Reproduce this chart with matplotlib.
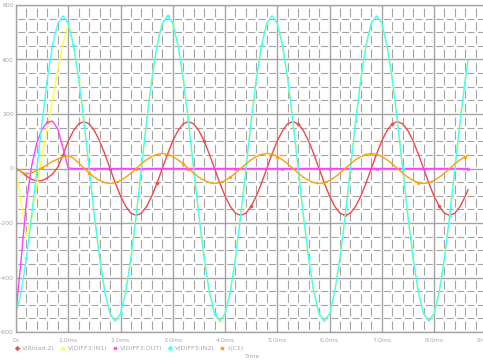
import matplotlib
matplotlib.use("Agg")
import matplotlib.pyplot as plt
import numpy as np

plt.rcParams["lines.scale_dashes"] = False

# sample times in ms (read every 0.1 ms, last point where the traces stop)
t_ms = np.append(np.arange(87) * 0.1, 8.65)

v_rload = [0, -12, -28, -40, -46, -44, -35, -20, 5, 50,
           101, 139, 164, 172, 164, 139, 101, 53, 0, -53, -101, -139, -164, -172, -164, -139, -101, -53, 0, 53,
           101, 139, 164, 172, 164, 139, 101, 53, 0, -53, -101, -139, -164, -172, -164, -139, -101, -53, 0, 53,
           101, 139, 164, 172, 164, 139, 101, 53, 0, -53, -101, -139, -164, -172, -164, -139, -101, -53, 0, 53,
           101, 139, 164, 172, 164, 139, 101, 53, 0, -53, -101, -139, -164, -172, -164, -139, -101,
           -78]

v_in1 = [0, -130, -250, -170, -60, 45, 150, 255, 360, 460, 530,
         453, 329, 173, 0, -173, -329, -453, -533, -560,
         -533, -453, -329, -173, 0, 173, 329, 453, 533, 560, 533, 453, 329, 173, 0, -173, -329, -453, -533, -560,
         -533, -453, -329, -173, 0, 173, 329, 453, 533, 560, 533, 453, 329, 173, 0, -173, -329, -453, -533, -560,
         -533, -453, -329, -173, 0, 173, 329, 453, 533, 560, 533, 453, 329, 173, 0, -173, -329, -453, -533, -560,
         -533, -453, -329, -173, 0, 173, 329,
         396]

v_out = [-525, -330, -120, 10, 95, 145, 170, 174, 145, 75, 2] + [0] * 77

v_in2 = [-533, -453, -329, -173, 0, 173, 329, 453, 533, 560, 533, 453, 329, 173, 0, -173, -329, -453, -533, -560,
         -533, -453, -329, -173, 0, 173, 329, 453, 533, 560, 533, 453, 329, 173, 0, -173, -329, -453, -533, -560,
         -533, -453, -329, -173, 0, 173, 329, 453, 533, 560, 533, 453, 329, 173, 0, -173, -329, -453, -533, -560,
         -533, -453, -329, -173, 0, 173, 329, 453, 533, 560, 533, 453, 329, 173, 0, -173, -329, -453, -533, -560,
         -533, -453, -329, -173, 0, 173, 329,
         396]

i_c1 = [0, -12, -20, -16, -7, 3, 14, 26, 35, 43, 47, 38, 20, 2,
        -17, -32, -44, -52, -55, -52, -44, -32, -17, 0, 17, 32, 44, 52, 55, 52, 44, 32, 17, 0,
        -17, -32, -44, -52, -55, -52, -44, -32, -17, 0, 17, 32, 44, 52, 55, 52, 44, 32, 17, 0,
        -17, -32, -44, -52, -55, -52, -44, -32, -17, 0, 17, 32, 44, 52, 55, 52, 44, 32, 17, 0,
        -17, -32, -44, -52, -55, -52, -44, -32, -17, 0, 17, 32, 44,
        49]

x_ticks = [0, 1, 2, 3, 4, 5, 6, 7, 8, 9]
x_labels = ["0s", "1.0ms", "2.0ms", "3.0ms", "4.0ms", "5.0ms", "6.0ms", "7.0ms", "8.0ms", "9.0ms"]
y_ticks = [-600, -400, -200, 0, 200, 400, 600]
y_labels = ["-600", "-400", "-200", "0", "200", "400", "600"]

txt_col = "#a8a8a8"
grid_col = "#a4a4a4"
fs = 4.5

fig = plt.figure(figsize=(4.83, 3.60), dpi=100)
ax = fig.add_axes([16 / 483, 28 / 360, 470.25 / 483, 327 / 360])

series = [
    (v_rload, "#f04848", "D", "V(Rload:2)", 0),
    (v_in1, "#ffff40", "^", "V(DIFF3:IN1)", 3),
    (v_out, "#ff40ff", "o", "V(DIFF3:OUT)", 6),
    (v_in2, "#40ffff", "D", "V(DIFF3:IN2)", 2),
    (i_c1, "#ffa000", "X", "-I(C1)", 5),
]
for vals, col, mk, lab, off in series:
    mfc = "none" if mk == "o" else col
    ax.plot(t_ms, vals, color=col, lw=1.0, marker=mk, ms=1.6, mfc=mfc, mec=col, mew=0.6,
            markevery=(off, 9), label=lab)

ax.set_xlim(0, 9)
ax.set_ylim(-600, 600)
ax.set_xticks(x_ticks)
ax.set_xticklabels(x_labels)
ax.set_yticks(y_ticks)
ax.set_yticklabels(y_labels)
ax.set_xticks(np.arange(0, 9.01, 0.2), minor=True)
ax.set_yticks(np.arange(-600, 601, 50), minor=True)
ax.tick_params(which="both", length=0, labelsize=fs, labelcolor=txt_col)
ax.tick_params(axis="x", pad=4)
ax.tick_params(axis="y", pad=1.5)
ax.grid(which="major", color=grid_col, lw=1.0, ls="-", zorder=0)

# minor grid: short dashes that leave the crossings open, like the simulator's grid
px = 0.72
ax.xaxis.grid(which="minor", color=grid_col, lw=0.8, ls=((8.5 + 2.6) * px, (8.5 * px, 5.1 * px)))
ax.yaxis.grid(which="minor", color=grid_col, lw=0.8, ls=((7 + 1.7) * px, (7 * px, 3.45 * px)))
ax.set_axisbelow(True)
for s in ax.spines.values():
    s.set_color(grid_col)
    s.set_linewidth(1.0)

ax.legend(loc="center left", bbox_to_anchor=(16 / 483, 12 / 360), bbox_transform=fig.transFigure,
          ncol=5, frameon=False, prop={"family": "DejaVu Sans", "size": fs}, labelcolor=txt_col,
          handlelength=0.4, handletextpad=0.6, columnspacing=1.0, borderpad=0, borderaxespad=0,
          markerscale=1.3)

fig.text(245 / 483, 3 / 360, "Time", fontsize=fs, color=txt_col, va="center", ha="left")

fig.savefig("out.png", dpi=100)
